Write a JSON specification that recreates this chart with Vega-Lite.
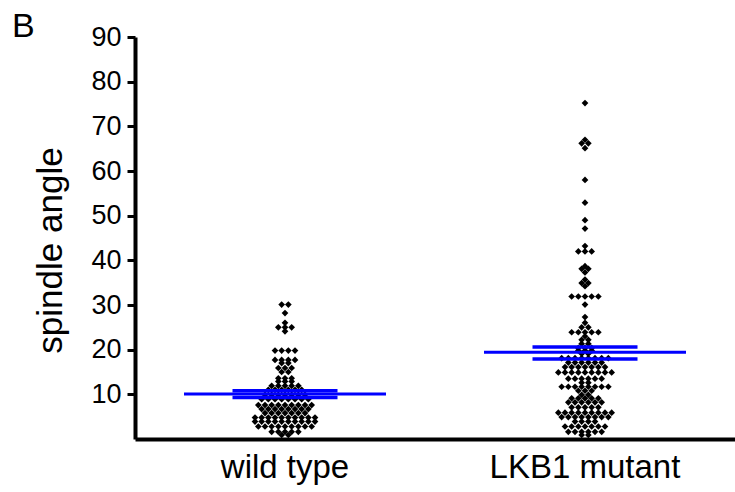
{
  "$schema": "https://vega.github.io/schema/vega-lite/v6.json",
  "width": 600,
  "height": 402,
  "autosize": {"type": "none"},
  "padding": {"left": 135, "top": 37, "right": 0, "bottom": 53},
  "background": "white",
  "title": {"text": "B", "anchor": "start", "frame": "group", "dx": -123, "dy": 52, "fontSize": 34, "fontWeight": "normal", "font": "Liberation Sans", "color": "black", "offset": 4, "baseline": "alphabetic"},
  "config": {
    "view": {"stroke": null},
    "font": "Liberation Sans",
    "axis": {"grid": false, "domainColor": "black", "domainWidth": 4, "tickColor": "black", "labelColor": "black", "titleColor": "black", "labelFont": "Liberation Sans", "titleFont": "Liberation Sans", "labelLimit": 400}
  },
  "datasets": {
    "points": [
      {"group": "wild type", "angle": 30.1}, {"group": "wild type", "angle": 30.1},
      {"group": "wild type", "angle": 28.2},
      {"group": "wild type", "angle": 26.0},
      {"group": "wild type", "angle": 25.0}, {"group": "wild type", "angle": 25.0}, {"group": "wild type", "angle": 25.0},
      {"group": "wild type", "angle": 24.1},
      {"group": "wild type", "angle": 19.8}, {"group": "wild type", "angle": 19.8}, {"group": "wild type", "angle": 19.8}, {"group": "wild type", "angle": 19.8},
      {"group": "wild type", "angle": 17.7}, {"group": "wild type", "angle": 17.7}, {"group": "wild type", "angle": 17.7}, {"group": "wild type", "angle": 17.7},
      {"group": "wild type", "angle": 17.0}, {"group": "wild type", "angle": 17.0},
      {"group": "wild type", "angle": 15.9}, {"group": "wild type", "angle": 15.9}, {"group": "wild type", "angle": 15.9},
      {"group": "wild type", "angle": 15.0}, {"group": "wild type", "angle": 15.0},
      {"group": "wild type", "angle": 13.6}, {"group": "wild type", "angle": 13.6}, {"group": "wild type", "angle": 13.6},
      {"group": "wild type", "angle": 12.9}, {"group": "wild type", "angle": 12.9}, {"group": "wild type", "angle": 12.9},
      {"group": "wild type", "angle": 11.9}, {"group": "wild type", "angle": 11.9}, {"group": "wild type", "angle": 11.9}, {"group": "wild type", "angle": 11.9}, {"group": "wild type", "angle": 11.9},
      {"group": "wild type", "angle": 11.0}, {"group": "wild type", "angle": 11.0}, {"group": "wild type", "angle": 11.0}, {"group": "wild type", "angle": 11.0}, {"group": "wild type", "angle": 11.0}, {"group": "wild type", "angle": 11.0},
      {"group": "wild type", "angle": 9.9}, {"group": "wild type", "angle": 9.9}, {"group": "wild type", "angle": 9.9}, {"group": "wild type", "angle": 9.9}, {"group": "wild type", "angle": 9.9}, {"group": "wild type", "angle": 9.9}, {"group": "wild type", "angle": 9.9},
      {"group": "wild type", "angle": 8.9}, {"group": "wild type", "angle": 8.9}, {"group": "wild type", "angle": 8.9}, {"group": "wild type", "angle": 8.9}, {"group": "wild type", "angle": 8.9}, {"group": "wild type", "angle": 8.9}, {"group": "wild type", "angle": 8.9}, {"group": "wild type", "angle": 8.9},
      {"group": "wild type", "angle": 7.6}, {"group": "wild type", "angle": 7.6}, {"group": "wild type", "angle": 7.6}, {"group": "wild type", "angle": 7.6}, {"group": "wild type", "angle": 7.6}, {"group": "wild type", "angle": 7.6}, {"group": "wild type", "angle": 7.6}, {"group": "wild type", "angle": 7.6}, {"group": "wild type", "angle": 7.6},
      {"group": "wild type", "angle": 6.7}, {"group": "wild type", "angle": 6.7}, {"group": "wild type", "angle": 6.7}, {"group": "wild type", "angle": 6.7}, {"group": "wild type", "angle": 6.7}, {"group": "wild type", "angle": 6.7}, {"group": "wild type", "angle": 6.7}, {"group": "wild type", "angle": 6.7},
      {"group": "wild type", "angle": 5.8}, {"group": "wild type", "angle": 5.8}, {"group": "wild type", "angle": 5.8}, {"group": "wild type", "angle": 5.8}, {"group": "wild type", "angle": 5.8}, {"group": "wild type", "angle": 5.8}, {"group": "wild type", "angle": 5.8},
      {"group": "wild type", "angle": 4.8}, {"group": "wild type", "angle": 4.8}, {"group": "wild type", "angle": 4.8}, {"group": "wild type", "angle": 4.8}, {"group": "wild type", "angle": 4.8}, {"group": "wild type", "angle": 4.8}, {"group": "wild type", "angle": 4.8}, {"group": "wild type", "angle": 4.8}, {"group": "wild type", "angle": 4.8}, {"group": "wild type", "angle": 4.8},
      {"group": "wild type", "angle": 3.9}, {"group": "wild type", "angle": 3.9}, {"group": "wild type", "angle": 3.9}, {"group": "wild type", "angle": 3.9}, {"group": "wild type", "angle": 3.9}, {"group": "wild type", "angle": 3.9}, {"group": "wild type", "angle": 3.9}, {"group": "wild type", "angle": 3.9}, {"group": "wild type", "angle": 3.9}, {"group": "wild type", "angle": 3.9},
      {"group": "wild type", "angle": 2.8}, {"group": "wild type", "angle": 2.8}, {"group": "wild type", "angle": 2.8}, {"group": "wild type", "angle": 2.8}, {"group": "wild type", "angle": 2.8}, {"group": "wild type", "angle": 2.8}, {"group": "wild type", "angle": 2.8}, {"group": "wild type", "angle": 2.8}, {"group": "wild type", "angle": 2.8},
      {"group": "wild type", "angle": 1.6}, {"group": "wild type", "angle": 1.6}, {"group": "wild type", "angle": 1.6}, {"group": "wild type", "angle": 1.6}, {"group": "wild type", "angle": 1.6},
      {"group": "wild type", "angle": 0.9}, {"group": "wild type", "angle": 0.9},

      {"group": "LKB1 mutant", "angle": 75.2},
      {"group": "LKB1 mutant", "angle": 67.0},
      {"group": "LKB1 mutant", "angle": 66.2}, {"group": "LKB1 mutant", "angle": 66.2},
      {"group": "LKB1 mutant", "angle": 65.1},
      {"group": "LKB1 mutant", "angle": 58.0},
      {"group": "LKB1 mutant", "angle": 52.9},
      {"group": "LKB1 mutant", "angle": 49.0},
      {"group": "LKB1 mutant", "angle": 47.1},
      {"group": "LKB1 mutant", "angle": 43.2},
      {"group": "LKB1 mutant", "angle": 42.0}, {"group": "LKB1 mutant", "angle": 42.0}, {"group": "LKB1 mutant", "angle": 42.0},
      {"group": "LKB1 mutant", "angle": 38.7},
      {"group": "LKB1 mutant", "angle": 38.1}, {"group": "LKB1 mutant", "angle": 38.1},
      {"group": "LKB1 mutant", "angle": 37.3},
      {"group": "LKB1 mutant", "angle": 35.7},
      {"group": "LKB1 mutant", "angle": 34.9}, {"group": "LKB1 mutant", "angle": 34.9},
      {"group": "LKB1 mutant", "angle": 34.2},
      {"group": "LKB1 mutant", "angle": 31.9}, {"group": "LKB1 mutant", "angle": 31.9}, {"group": "LKB1 mutant", "angle": 31.9}, {"group": "LKB1 mutant", "angle": 31.9}, {"group": "LKB1 mutant", "angle": 31.9},
      {"group": "LKB1 mutant", "angle": 30.1},
      {"group": "LKB1 mutant", "angle": 27.3},
      {"group": "LKB1 mutant", "angle": 26.0},
      {"group": "LKB1 mutant", "angle": 25.0}, {"group": "LKB1 mutant", "angle": 25.0},
      {"group": "LKB1 mutant", "angle": 23.9}, {"group": "LKB1 mutant", "angle": 23.9}, {"group": "LKB1 mutant", "angle": 23.9}, {"group": "LKB1 mutant", "angle": 23.9}, {"group": "LKB1 mutant", "angle": 23.9},
      {"group": "LKB1 mutant", "angle": 23.0},
      {"group": "LKB1 mutant", "angle": 22.2}, {"group": "LKB1 mutant", "angle": 22.2},
      {"group": "LKB1 mutant", "angle": 21.3}, {"group": "LKB1 mutant", "angle": 21.3},
      {"group": "LKB1 mutant", "angle": 20.4}, {"group": "LKB1 mutant", "angle": 20.4}, {"group": "LKB1 mutant", "angle": 20.4},
      {"group": "LKB1 mutant", "angle": 19.8}, {"group": "LKB1 mutant", "angle": 19.8}, {"group": "LKB1 mutant", "angle": 19.8},
      {"group": "LKB1 mutant", "angle": 19.1}, {"group": "LKB1 mutant", "angle": 19.1},
      {"group": "LKB1 mutant", "angle": 18.1}, {"group": "LKB1 mutant", "angle": 18.1}, {"group": "LKB1 mutant", "angle": 18.1}, {"group": "LKB1 mutant", "angle": 18.1}, {"group": "LKB1 mutant", "angle": 18.1}, {"group": "LKB1 mutant", "angle": 18.1}, {"group": "LKB1 mutant", "angle": 18.1}, {"group": "LKB1 mutant", "angle": 18.1},
      {"group": "LKB1 mutant", "angle": 17.1}, {"group": "LKB1 mutant", "angle": 17.1}, {"group": "LKB1 mutant", "angle": 17.1}, {"group": "LKB1 mutant", "angle": 17.1}, {"group": "LKB1 mutant", "angle": 17.1}, {"group": "LKB1 mutant", "angle": 17.1},
      {"group": "LKB1 mutant", "angle": 16.1}, {"group": "LKB1 mutant", "angle": 16.1}, {"group": "LKB1 mutant", "angle": 16.1}, {"group": "LKB1 mutant", "angle": 16.1}, {"group": "LKB1 mutant", "angle": 16.1}, {"group": "LKB1 mutant", "angle": 16.1}, {"group": "LKB1 mutant", "angle": 16.1},
      {"group": "LKB1 mutant", "angle": 14.9}, {"group": "LKB1 mutant", "angle": 14.9}, {"group": "LKB1 mutant", "angle": 14.9}, {"group": "LKB1 mutant", "angle": 14.9}, {"group": "LKB1 mutant", "angle": 14.9}, {"group": "LKB1 mutant", "angle": 14.9}, {"group": "LKB1 mutant", "angle": 14.9}, {"group": "LKB1 mutant", "angle": 14.9}, {"group": "LKB1 mutant", "angle": 14.9},
      {"group": "LKB1 mutant", "angle": 13.5}, {"group": "LKB1 mutant", "angle": 13.5}, {"group": "LKB1 mutant", "angle": 13.5}, {"group": "LKB1 mutant", "angle": 13.5}, {"group": "LKB1 mutant", "angle": 13.5}, {"group": "LKB1 mutant", "angle": 13.5},
      {"group": "LKB1 mutant", "angle": 12.6}, {"group": "LKB1 mutant", "angle": 12.6},
      {"group": "LKB1 mutant", "angle": 11.7}, {"group": "LKB1 mutant", "angle": 11.7}, {"group": "LKB1 mutant", "angle": 11.7}, {"group": "LKB1 mutant", "angle": 11.7}, {"group": "LKB1 mutant", "angle": 11.7}, {"group": "LKB1 mutant", "angle": 11.7}, {"group": "LKB1 mutant", "angle": 11.7}, {"group": "LKB1 mutant", "angle": 11.7},
      {"group": "LKB1 mutant", "angle": 10.8}, {"group": "LKB1 mutant", "angle": 10.8}, {"group": "LKB1 mutant", "angle": 10.8},
      {"group": "LKB1 mutant", "angle": 9.9}, {"group": "LKB1 mutant", "angle": 9.9},
      {"group": "LKB1 mutant", "angle": 9.1}, {"group": "LKB1 mutant", "angle": 9.1}, {"group": "LKB1 mutant", "angle": 9.1}, {"group": "LKB1 mutant", "angle": 9.1}, {"group": "LKB1 mutant", "angle": 9.1},
      {"group": "LKB1 mutant", "angle": 8.2}, {"group": "LKB1 mutant", "angle": 8.2}, {"group": "LKB1 mutant", "angle": 8.2}, {"group": "LKB1 mutant", "angle": 8.2}, {"group": "LKB1 mutant", "angle": 8.2}, {"group": "LKB1 mutant", "angle": 8.2},
      {"group": "LKB1 mutant", "angle": 7.1}, {"group": "LKB1 mutant", "angle": 7.1}, {"group": "LKB1 mutant", "angle": 7.1}, {"group": "LKB1 mutant", "angle": 7.1}, {"group": "LKB1 mutant", "angle": 7.1},
      {"group": "LKB1 mutant", "angle": 5.9}, {"group": "LKB1 mutant", "angle": 5.9}, {"group": "LKB1 mutant", "angle": 5.9}, {"group": "LKB1 mutant", "angle": 5.9}, {"group": "LKB1 mutant", "angle": 5.9}, {"group": "LKB1 mutant", "angle": 5.9}, {"group": "LKB1 mutant", "angle": 5.9}, {"group": "LKB1 mutant", "angle": 5.9}, {"group": "LKB1 mutant", "angle": 5.9},
      {"group": "LKB1 mutant", "angle": 4.9}, {"group": "LKB1 mutant", "angle": 4.9}, {"group": "LKB1 mutant", "angle": 4.9}, {"group": "LKB1 mutant", "angle": 4.9}, {"group": "LKB1 mutant", "angle": 4.9}, {"group": "LKB1 mutant", "angle": 4.9}, {"group": "LKB1 mutant", "angle": 4.9}, {"group": "LKB1 mutant", "angle": 4.9},
      {"group": "LKB1 mutant", "angle": 3.9}, {"group": "LKB1 mutant", "angle": 3.9}, {"group": "LKB1 mutant", "angle": 3.9}, {"group": "LKB1 mutant", "angle": 3.9},
      {"group": "LKB1 mutant", "angle": 2.8}, {"group": "LKB1 mutant", "angle": 2.8}, {"group": "LKB1 mutant", "angle": 2.8}, {"group": "LKB1 mutant", "angle": 2.8}, {"group": "LKB1 mutant", "angle": 2.8}, {"group": "LKB1 mutant", "angle": 2.8}, {"group": "LKB1 mutant", "angle": 2.8},
      {"group": "LKB1 mutant", "angle": 1.6}, {"group": "LKB1 mutant", "angle": 1.6}, {"group": "LKB1 mutant", "angle": 1.6}, {"group": "LKB1 mutant", "angle": 1.6}, {"group": "LKB1 mutant", "angle": 1.6}, {"group": "LKB1 mutant", "angle": 1.6},
      {"group": "LKB1 mutant", "angle": 0.9}, {"group": "LKB1 mutant", "angle": 0.9}
    ],
    "summary": [
      {"group": "wild type", "stat": "mean", "angle": 10.1},
      {"group": "wild type", "stat": "lo", "angle": 9.3},
      {"group": "wild type", "stat": "hi", "angle": 10.8},
      {"group": "LKB1 mutant", "stat": "mean", "angle": 19.4},
      {"group": "LKB1 mutant", "stat": "lo", "angle": 17.9},
      {"group": "LKB1 mutant", "stat": "hi", "angle": 20.6}
    ]
  },
  "encoding": {
    "x": {
      "field": "group", "type": "nominal", "sort": ["wild type", "LKB1 mutant"],
      "scale": {"type": "band", "paddingInner": 0, "paddingOuter": 0},
      "axis": {"title": null, "labelAngle": 0, "labelFontSize": 33, "ticks": false, "labelPadding": 12, "domainWidth": 4, "labelLimit": 400}
    },
    "y": {
      "field": "angle", "type": "quantitative",
      "scale": {"domain": [0, 90], "nice": false},
      "axis": {"title": "spindle angle", "values": [10, 20, 30, 40, 50, 60, 70, 80, 90], "tickSize": 8, "tickWidth": 3, "labelFontSize": 27, "labelPadding": 6, "titleFontSize": 35, "titleFontWeight": "normal", "titlePadding": 22, "titleY": 213, "domainWidth": 4}
    }
  },
  "layer": [
    {
      "data": {"name": "points"},
      "transform": [
        {"window": [{"op": "row_number", "as": "k"}], "groupby": ["group", "angle"]},
        {"joinaggregate": [{"op": "count", "as": "n"}], "groupby": ["group", "angle"]},
        {"calculate": "datum.k - (datum.n + 1) / 2", "as": "slot"}
      ],
      "mark": {"type": "point", "shape": "diamond", "filled": true, "color": "black", "size": 45, "opacity": 1},
      "encoding": {
        "xOffset": {"field": "slot", "type": "quantitative", "scale": {"domain": [-22.5, 22.5]}}
      }
    },
    {
      "data": {"name": "summary"},
      "transform": [{"filter": "datum.stat === 'mean'"}],
      "mark": {"type": "tick", "color": "#0000ff", "size": 202, "thickness": 3, "opacity": 1}
    },
    {
      "data": {"name": "summary"},
      "transform": [{"filter": "datum.stat !== 'mean'"}],
      "mark": {"type": "tick", "color": "#0000ff", "size": 105, "thickness": 3.5, "opacity": 1}
    }
  ]
}
